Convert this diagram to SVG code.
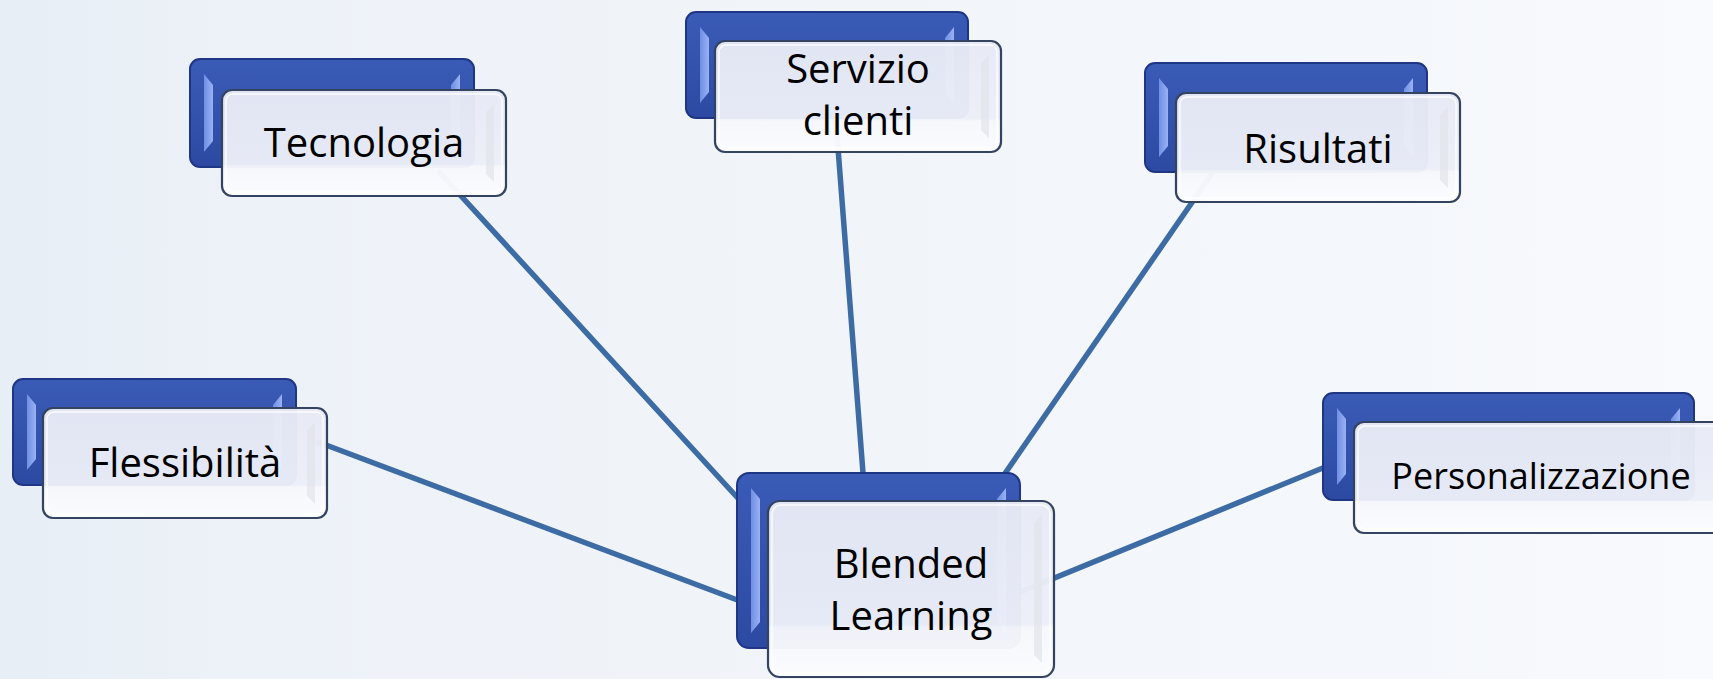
<svg xmlns="http://www.w3.org/2000/svg" width="1713" height="679" viewBox="0 0 1713 679">
  <defs>
    <linearGradient id="bg" x1="0" y1="0" x2="1" y2="0">
      <stop offset="0" stop-color="#e8eef6"/>
      <stop offset="0.15" stop-color="#edf2f8"/>
      <stop offset="0.75" stop-color="#f4f7fb"/>
      <stop offset="1" stop-color="#f8fafd"/>
    </linearGradient>
    <linearGradient id="bluefill" x1="0" y1="0" x2="0" y2="1">
      <stop offset="0" stop-color="#3a5bb6"/>
      <stop offset="1" stop-color="#2d4aa2"/>
    </linearGradient>
    <linearGradient id="bevel" x1="0" y1="0" x2="1" y2="0">
      <stop offset="0" stop-color="#6f8fe4"/>
      <stop offset="1" stop-color="#9ab2f4"/>
    </linearGradient>
    <linearGradient id="frontfill" x1="0" y1="0" x2="0" y2="1">
      <stop offset="0" stop-color="#e7eaf5"/>
      <stop offset="0.7" stop-color="#eceff8"/>
      <stop offset="0.72" stop-color="#f6f7fb"/>
      <stop offset="1" stop-color="#fbfcfe"/>
    </linearGradient>
    <style>
      .b { fill: url(#bluefill); stroke: #1f3685; stroke-width: 2; }
      .bv { fill: url(#bevel); }
      .f { fill: url(#frontfill); fill-opacity: 0.97; stroke: #34435f; stroke-width: 2.2; }
      .fi { fill: none; stroke: #ffffff; stroke-opacity: 0.85; stroke-width: 1.5; }
      .fr { fill: #e2e4ea; fill-opacity: 0.7; }
      .t { font-family: "Open Sans", "Liberation Sans", sans-serif; font-size: 40px; fill: #000000; text-anchor: middle; }
      .conn line { stroke: #3d6ca4; stroke-width: 5.5; stroke-linecap: round; }
    </style>
  </defs>

  <rect x="0" y="0" width="1713" height="679" fill="url(#bg)"/>

  <g id="connectors" class="conn">
    <line x1="440" y1="173" x2="746" y2="507"/>
    <line x1="836" y1="122" x2="864" y2="486"/>
    <line x1="1213" y1="172" x2="997" y2="485"/>
    <line x1="318" y1="442" x2="748" y2="604"/>
    <line x1="1335" y1="463" x2="1008" y2="597"/>
  </g>

  <g id="node-tecnologia">
    <rect class="b" x="190" y="59" width="284" height="108" rx="10"/>
    <polygon class="bv" points="204,74 213,85 213,141 204,152"/>
    <polygon class="bv" points="460,74 451,85 451,141 460,152"/>
    <rect class="f" x="222" y="90" width="284" height="106" rx="10"/>
    <rect class="fi" x="226" y="94" width="276" height="98" rx="7"/>
    <polygon class="fr" points="494,104 486,112 486,174 494,182"/>
    <text class="t" x="364" y="157">Tecnologia</text>
  </g>

  <g id="node-servizio">
    <rect class="b" x="686" y="12" width="282" height="106" rx="10"/>
    <polygon class="bv" points="700,27 709,38 709,92 700,103"/>
    <polygon class="bv" points="954,27 945,38 945,92 954,103"/>
    <rect class="f" x="715" y="41" width="286" height="111" rx="10"/>
    <rect class="fi" x="719" y="45" width="278" height="103" rx="7"/>
    <polygon class="fr" points="989,55 981,63 981,130 989,138"/>
    <text class="t" x="858" y="83">Servizio</text>
    <text class="t" x="858" y="135">clienti</text>
  </g>

  <g id="node-risultati">
    <rect class="b" x="1145" y="63" width="282" height="109" rx="10"/>
    <polygon class="bv" points="1159,78 1168,89 1168,146 1159,157"/>
    <polygon class="bv" points="1413,78 1404,89 1404,146 1413,157"/>
    <rect class="f" x="1176" y="93" width="284" height="109" rx="10"/>
    <rect class="fi" x="1180" y="97" width="276" height="101" rx="7"/>
    <polygon class="fr" points="1448,107 1440,115 1440,180 1448,188"/>
    <text class="t" x="1318" y="163">Risultati</text>
  </g>

  <g id="node-flessibilita">
    <rect class="b" x="13" y="379" width="283" height="106" rx="10"/>
    <polygon class="bv" points="27,394 36,405 36,459 27,470"/>
    <polygon class="bv" points="282,394 273,405 273,459 282,470"/>
    <rect class="f" x="43" y="408" width="284" height="110" rx="10"/>
    <rect class="fi" x="47" y="412" width="276" height="102" rx="7"/>
    <polygon class="fr" points="315,422 307,430 307,496 315,504"/>
    <text class="t" x="185" y="477">Flessibilità</text>
  </g>

  <g id="node-personalizzazione">
    <rect class="b" x="1323" y="393" width="371" height="107" rx="10"/>
    <polygon class="bv" points="1337,408 1346,419 1346,474 1337,485"/>
    <polygon class="bv" points="1680,408 1671,419 1671,474 1680,485"/>
    <rect class="f" x="1354" y="422" width="372" height="111" rx="10"/>
    <rect class="fi" x="1358" y="426" width="364" height="103" rx="7"/>
    <text class="t" x="1541" y="489" style="font-size:36px">Personalizzazione</text>
  </g>

  <g id="node-blended">
    <rect class="b" x="737" y="473" width="283" height="175" rx="12"/>
    <polygon class="bv" points="751,488 760,499 760,622 751,633"/>
    <polygon class="bv" points="1006,488 997,499 997,622 1006,633"/>
    <rect class="f" x="768" y="501" width="286" height="176" rx="12"/>
    <rect class="fi" x="772" y="505" width="278" height="168" rx="9"/>
    <polygon class="fr" points="1042,515 1034,523 1034,655 1042,663"/>
    <text class="t" x="911" y="578">Blended</text>
    <text class="t" x="911" y="630">Learning</text>
  </g>
</svg>
